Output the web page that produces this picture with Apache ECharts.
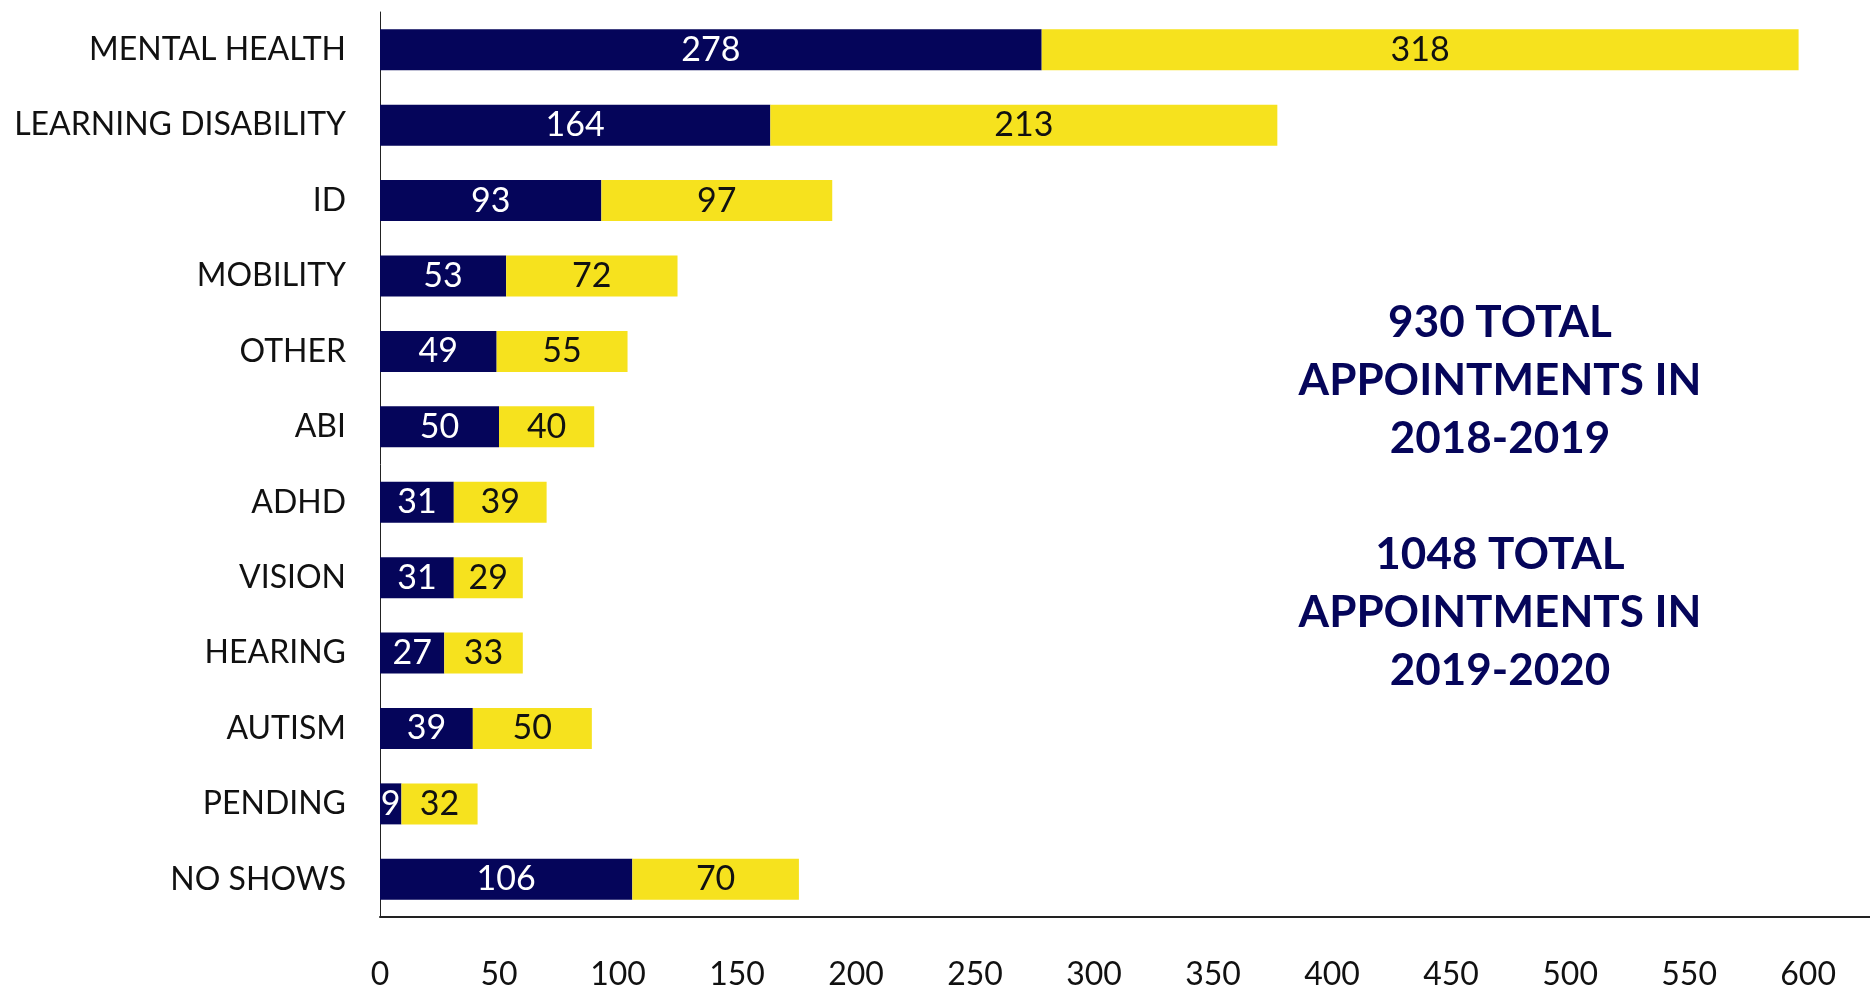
<!DOCTYPE html>
<html>
<head>
<meta charset="utf-8">
<script src="https://cdn.jsdelivr.net/npm/echarts@6/dist/echarts.min.js"></script>
<style>
  html, body { margin: 0; padding: 0; background: #fff; }
  #chart { width: 1870px; height: 991px; }
</style>
</head>
<body>
<div id="chart"></div>
<script>
// appointment types, top to bottom
var categories = ['MENTAL HEALTH', 'LEARNING DISABILITY', 'ID', 'MOBILITY', 'OTHER', 'ABI',
  'ADHD', 'VISION', 'HEARING', 'AUTISM', 'PENDING', 'NO SHOWS'];
var appts2018 = [278, 164, 93, 53, 49, 50, 31, 31, 27, 39, 9, 106];
var appts2019 = [318, 213, 97, 72, 55, 40, 39, 29, 33, 50, 32, 70];
var xTicks = [0, 50, 100, 150, 200, 250, 300, 350, 400, 450, 500, 550, 600];

var navy = '#05055a';
var yellow = '#f6e21e';

function sum(arr) { return arr.reduce(function (a, b) { return a + b; }, 0); }

var noteText = sum(appts2018) + ' TOTAL\nAPPOINTMENTS IN\n2018-2019\n\n' +
  sum(appts2019) + ' TOTAL\nAPPOINTMENTS IN\n2019-2020';

var chart = echarts.init(document.getElementById('chart'));
var option = {
  animation: false,
  grid: { left: 380, right: 0, top: 12, bottom: 72 },
  xAxis: {
    type: 'value',
    min: 0,
    max: 626,
    interval: 50,
    splitLine: { show: false },
    axisTick: { show: false },
    axisLine: { show: true, lineStyle: { color: '#222', width: 2 } },
    axisLabel: {
      showMaxLabel: false,
      margin: 42,
      fontFamily: 'Lato',
      fontSize: 32,
      color: '#111',
      formatter: function (v) { return xTicks.indexOf(v) >= 0 ? v : ''; }
    }
  },
  yAxis: {
    type: 'category',
    inverse: true,
    data: categories,
    axisTick: { show: false },
    axisLine: { show: true, lineStyle: { color: '#222', width: 1 } },
    axisLabel: {
      margin: 34,
      fontFamily: 'Lato',
      fontSize: 32,
      color: '#111'
    }
  },
  series: [
    {
      name: '2018-2019',
      type: 'bar',
      stack: 'total',
      barWidth: 41,
      data: appts2018,
      itemStyle: { color: navy },
      label: {
        show: true,
        position: 'inside',
        fontFamily: 'Lato',
        fontSize: 34,
        color: '#fff'
      }
    },
    {
      name: '2019-2020',
      type: 'bar',
      stack: 'total',
      barWidth: 41,
      data: appts2019,
      itemStyle: { color: yellow },
      label: {
        show: true,
        position: 'inside',
        fontFamily: 'Lato',
        fontSize: 34,
        color: '#111'
      }
    }
  ],
  graphic: [{
    type: 'text',
    x: 1500,
    y: 497,
    style: {
      text: noteText,
      align: 'center',
      verticalAlign: 'middle',
      fontFamily: 'Lato',
      fontWeight: 'bold',
      fontSize: 44,
      lineHeight: 58,
      fill: navy
    }
  }]
};
chart.setOption(option);
</script>
</body>
</html>
